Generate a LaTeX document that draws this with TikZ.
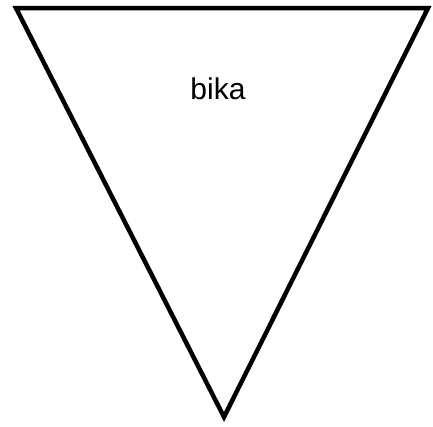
\documentclass[tikz,border=0pt]{standalone}
\usepackage{fontspec}
\setmainfont{Liberation Sans}
\usetikzlibrary{positioning}

\tikzset{
  funnel/.style={draw=black, line width=4.5pt, line join=miter},
  funnellabel/.style={font=\fontsize{30}{36}\selectfont, inner sep=0pt, anchor=base}
}

\begin{document}
\begin{tikzpicture}[x=1pt, y=-1pt]
        % Page frame
        \useasboundingbox (0,0) rectangle (433,426);
        % Inverted triangle
        \coordinate (topleft) at (16,8);
        \coordinate (topright) at (428,8);
        \coordinate (tip) at (224,417);
        \draw[funnel] (topleft) -- (topright) -- (tip) -- cycle;
        \node[funnellabel] (bika) at (218,99) {bika};
\end{tikzpicture}
\end{document}
